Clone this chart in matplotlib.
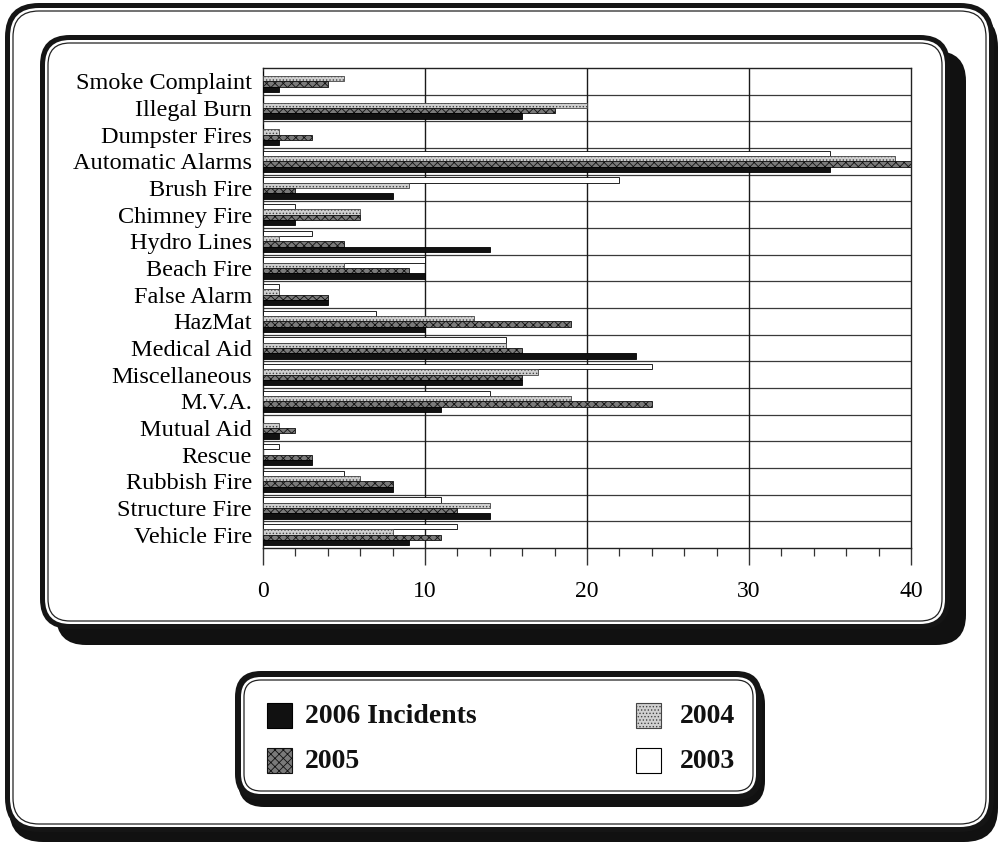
import matplotlib
matplotlib.use("Agg")
import matplotlib.pyplot as plt
from matplotlib.patches import FancyBboxPatch, Rectangle
import numpy as np

plt.rcParams['font.family'] = ['Liberation Serif', 'DejaVu Serif']
plt.rcParams['hatch.linewidth'] = 0.6

categories = ["Smoke Complaint", "Illegal Burn", "Dumpster Fires", "Automatic Alarms",
              "Brush Fire", "Chimney Fire", "Hydro Lines", "Beach Fire", "False Alarm",
              "HazMat", "Medical Aid", "Miscellaneous", "M.V.A.", "Mutual Aid",
              "Rescue", "Rubbish Fire", "Structure Fire", "Vehicle Fire"]
y2003 = [0, 0, 0, 35, 22, 2, 3, 10, 1, 7, 15, 24, 14, 0, 1, 5, 11, 12]
y2004 = [5, 20, 1, 39, 9, 6, 1, 5, 1, 13, 15, 17, 19, 1, 0, 6, 14, 8]
y2005 = [4, 18, 3, 40, 2, 6, 5, 9, 4, 19, 16, 16, 24, 2, 3, 8, 12, 11]
y2006 = [1, 16, 1, 35, 8, 2, 14, 10, 4, 10, 23, 16, 11, 1, 3, 8, 14, 9]
x_ticks = [0, 10, 20, 30, 40]
legend_labels = ["2006 Incidents", "2005", "2004", "2003"]

W, H = 1001, 846
fig = plt.figure(figsize=(W / 100, H / 100), dpi=100)
fig.patch.set_facecolor('white')


def px(x, y):
    """Pixel position (from top-left) to inches for dpi_scale_trans."""
    return x / 100, (H - y) / 100


def rbox(x0, y0, x1, y1, r, fc='white', ec='none', lw=0, z=0):
    xa, ya = px(x0, y1)
    p = FancyBboxPatch((xa, ya), (x1 - x0) / 100, (y1 - y0) / 100,
                       boxstyle=f"round,pad=0,rounding_size={r / 100}",
                       transform=fig.dpi_scale_trans, facecolor=fc,
                       edgecolor=ec, linewidth=lw, zorder=z)
    fig.add_artist(p)
    return p


def framed(x0, y0, x1, y1, r, sh_dx, sh_dy, border, inset):
    # drop shadow, thick border, white gap, then thin inner line
    rbox(x0 + sh_dx, y0 + sh_dy, x1 + sh_dx, y1 + sh_dy, r, fc='#111111')
    rbox(x0, y0, x1, y1, r, fc='#151515')
    rbox(x0 + border, y0 + border, x1 - border, y1 - border, r - border, fc='white')
    rbox(x0 + inset, y0 + inset, x1 - inset, y1 - inset, r - inset,
         fc='white', ec='#222222', lw=0.9)


# page frame, chart panel and legend panel
framed(5, 3, 994, 832, 34, 4, 10, 5, 8)
framed(40, 35, 950, 629, 30, 16, 16, 5, 8)
framed(235, 671, 762, 800, 26, 3, 7, 6, 9)

# bar chart
ax = fig.add_axes([263 / W, 1 - 548 / H, (911 - 263) / W, (548 - 68) / H])
ax.set_facecolor('white')
n = len(categories)
y = np.arange(n)
bh = 0.2
series = [
    (y2003, -0.3, dict(facecolor='white', edgecolor='black', hatch=None)),
    (y2004, -0.1, dict(facecolor='#d0d0d0', edgecolor='#444444', hatch='.....')),
    (y2005, 0.1, dict(facecolor='#7a7a7a', edgecolor='#111111', hatch='xxxx')),
    (y2006, 0.3, dict(facecolor='#111111', edgecolor='black', hatch=None)),
]
for vals, off, st in series:
    ax.barh(y + off, vals, height=bh, linewidth=0.6, zorder=3, **st)

ax.set_xlim(0, 40)
ax.set_ylim(n - 0.5, -0.5)
ax.set_yticks(y)
ax.set_yticklabels(categories, fontsize=17.5)
ax.tick_params(axis='y', length=0, pad=8)
ax.set_xticks(x_ticks)
ax.set_xticklabels([str(t) for t in x_ticks], fontsize=17)
ax.set_xticks(np.arange(0, 41, 2), minor=True)
ax.tick_params(axis='x', which='major', direction='out', length=12, width=1,
               pad=12, color='#333333')
ax.tick_params(axis='x', which='minor', direction='out', length=5.5, width=0.9,
               color='#333333')

for b in np.arange(0.5, n - 0.5, 1):
    ax.axhline(b, color='#3a3a3a', lw=0.9, zorder=1)
for t in x_ticks[1:-1]:
    ax.axvline(t, color='#1a1a1a', lw=1.0, zorder=1)
for s in ax.spines.values():
    s.set_color('#222222')
    s.set_linewidth(1.0)

# legend entries
leg_styles = [series[3][2], series[2][2], series[1][2], series[0][2]]
leg_pos = [(267, 703, 305), (267, 748, 305), (636, 703, 680), (636, 748, 680)]
for lab, st, (bx, by, tx) in zip(legend_labels, leg_styles, leg_pos):
    xa, ya = px(bx, by + 25)
    fig.add_artist(Rectangle((xa, ya), 0.25, 0.25, transform=fig.dpi_scale_trans,
                             linewidth=0.8, zorder=5, **st))
    tx_in, ty_in = px(tx, by + 13)
    fig.text(tx_in, ty_in, lab, transform=fig.dpi_scale_trans, fontsize=20,
             fontweight='bold', va='center', ha='left', color='#111111')

fig.savefig('out.png', dpi=100, facecolor='white')
